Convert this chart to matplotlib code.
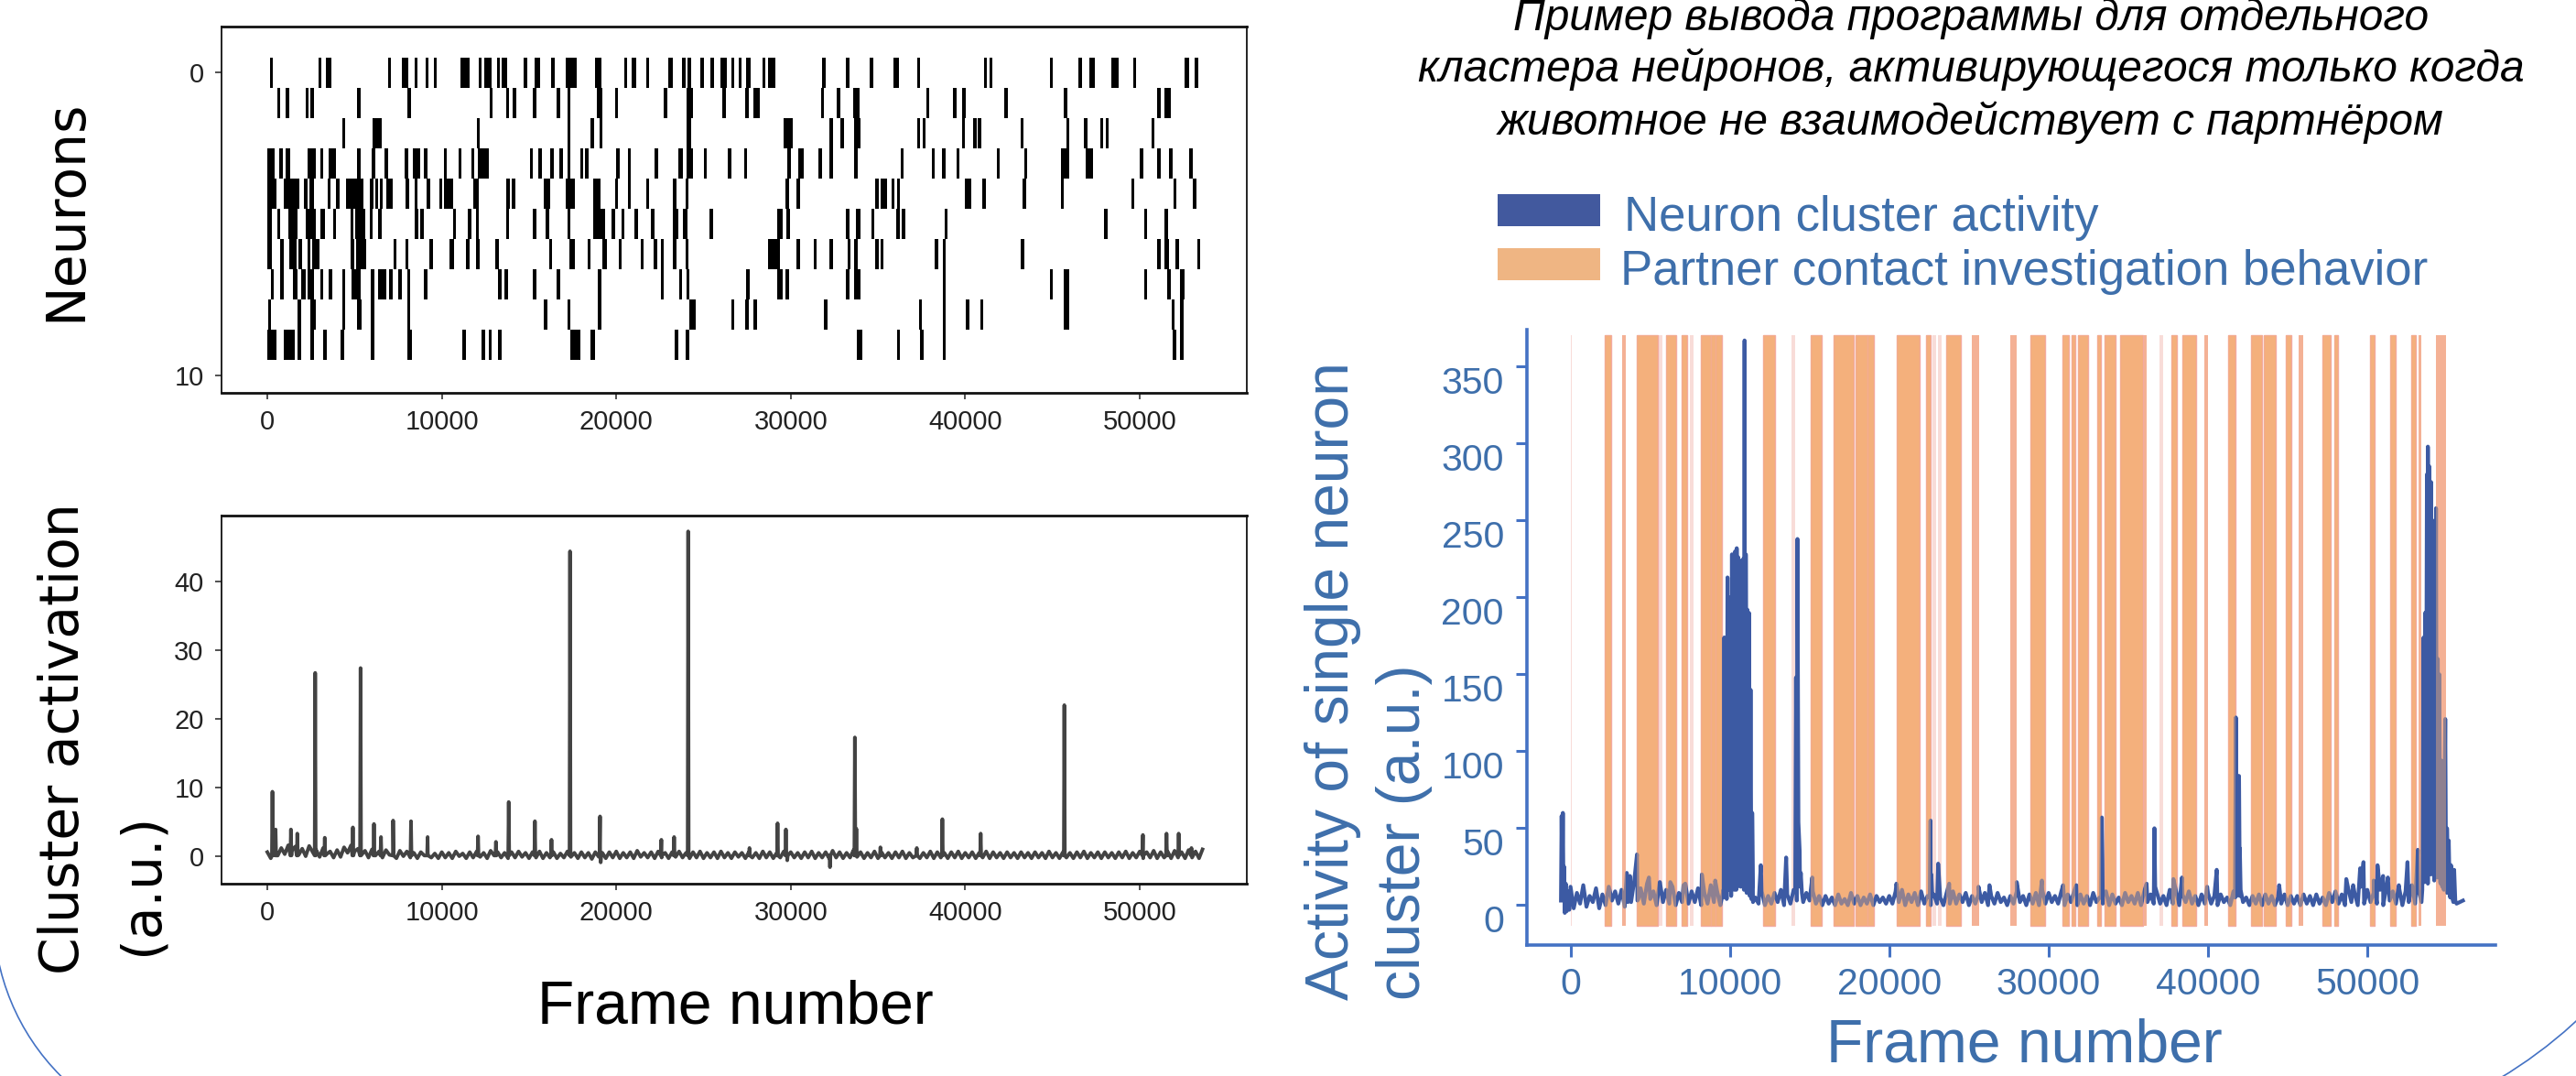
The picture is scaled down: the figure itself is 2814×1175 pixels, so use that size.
import numpy as np
import matplotlib
matplotlib.use("Agg")
import matplotlib.pyplot as plt
from matplotlib.patches import Rectangle, Arc
from matplotlib.transforms import ScaledTranslation

W, H, DPI = 2814, 1175, 100

ARIAL = ["Liberation Sans", "DejaVu Sans"]
BLUE_TXT = "#3e6fab"
BLUE_AX = "#4472c4"
BLUE_LINE = "#3c5aa3"
ORANGE = "#f4b07c"
PINK = "#f5b3ab"
FAINT = "#f8dcd8"

plt.rcParams["font.family"] = ARIAL

# ---- raster: (start frame, duration in frames) for each neuron row ----
neuron0 = [(150, 150), (2950, 150), (3350, 300), (6900, 180), (7690, 410), (8430, 180), (9070, 180),
           (9530, 170), (11080, 510), (12110, 180), (12420, 460), (13155, 180), (13430, 300),
           (14680, 220), (15325, 310), (16280, 180), (17110, 640), (18765, 400), (20455, 180),
           (20880, 275), (21705, 185), (22955, 280), (23785, 180), (24060, 220), (24835, 180),
           (25400, 200), (25970, 370), (26575, 185), (27000, 185), (27440, 275), (28360, 200),
           (28690, 405), (31815, 185), (33160, 185), (34540, 185), (35865, 310), (37240, 185),
           (41105, 150), (41380, 185), (44835, 185), (46490, 185), (47120, 330), (48370, 405),
           (49620, 185), (52545, 275), (53150, 185)]
neuron1 = [(560, 185), (1075, 185), (2215, 150), (2490, 200), (5120, 220), (8045, 185), (12730, 185),
           (13670, 185), (14075, 185), (15235, 185), (16595, 185), (17200, 185), (18910, 315),
           (19925, 185), (22720, 185), (24005, 370), (26080, 185), (27405, 185), (27865, 370),
           (31725, 185), (32645, 185), (33565, 370), (37755, 185), (39320, 185), (39815, 220),
           (42245, 185), (45665, 185), (51000, 185), (51400, 405)]
neuron2 = [(4290, 165), (6040, 185), (6260, 275), (11995, 185), (17200, 185), (18545, 185), (19040, 185),
           (24005, 275), (29610, 515), (32220, 185), (32830, 220), (33620, 370), (37240, 150),
           (37555, 185), (39815, 185), (40460, 185), (40735, 200), (43165, 185), (45795, 185),
           (46805, 185), (47725, 185), (48035, 185), (50665, 185)]
neuron3 = [(0, 410), (705, 185), (1075, 255), (2305, 495), (3040, 185), (3535, 425), (5120, 220),
           (5985, 185), (6720, 185), (7875, 185), (8320, 425), (8980, 185), (10120, 185), (10950, 185),
           (11685, 185), (12050, 645), (15050, 185), (15545, 185), (16225, 185), (16740, 185),
           (17200, 185), (17935, 185), (18210, 185), (20015, 185), (20660, 185), (22205, 185),
           (23545, 275), (24005, 370), (25015, 185), (26390, 185), (27310, 185), (29795, 220),
           (30440, 310), (31595, 185), (32220, 185), (33655, 185), (36285, 185), (38070, 185),
           (38675, 185), (39505, 185), (41805, 185), (43365, 185), (45465, 480), (46895, 425),
           (50025, 185), (51000, 185), (51680, 185), (52840, 185)]
neuron4 = [(0, 520), (925, 920), (2120, 185), (2395, 275), (3445, 185), (3960, 185), (4510, 975),
           (5890, 185), (6165, 185), (6445, 185), (6810, 370), (7915, 220), (8430, 185), (9110, 240),
           (9845, 185), (10120, 515), (11815, 330), (13705, 185), (14020, 185), (15860, 370),
           (17110, 515), (18670, 405), (19925, 185), (20660, 185), (21705, 185), (23235, 220),
           (23970, 185), (29705, 185), (30345, 185), (34850, 185), (35130, 405), (35770, 185),
           (36085, 185), (39965, 405), (40975, 185), (43310, 185), (45465, 185), (49525, 185),
           (51920, 185), (53060, 185)]
neuron5 = [(0, 245), (560, 185), (1200, 555), (2215, 550), (3040, 275), (3775, 185), (4750, 185),
           (5025, 590), (5855, 185), (6370, 185), (8465, 185), (8780, 185), (10635, 185), (11500, 185),
           (11960, 185), (13670, 185), (15235, 185), (15970, 185), (17200, 185), (18670, 680),
           (19740, 185), (20290, 185), (21065, 185), (21980, 220), (23235, 310), (23820, 275),
           (25345, 185), (29205, 315), (29760, 185), (33160, 185), (33750, 240), (34610, 185),
           (36045, 185), (36380, 185), (38805, 185), (47965, 185), (50245, 185), (51400, 220)]
neuron6 = [(0, 280), (740, 185), (1255, 440), (1810, 185), (2305, 185), (2545, 440), (4750, 220),
           (5065, 605), (7215, 185), (7915, 185), (9310, 185), (10450, 255), (11410, 185), (11960, 220),
           (13065, 185), (16150, 185), (17295, 330), (18360, 185), (19225, 240), (20145, 185),
           (21395, 185), (22165, 185), (22535, 185), (23235, 220), (23970, 185), (28690, 700),
           (30345, 185), (31320, 185), (32220, 185), (33250, 185), (33655, 185), (34850, 185),
           (35130, 185), (38255, 185), (38715, 185), (43180, 185), (51000, 185), (51400, 275),
           (52045, 185), (53280, 185)]
neuron7 = [(190, 185), (740, 185), (1480, 275), (1935, 275), (2305, 370), (3040, 185), (3535, 185),
           (4290, 185), (4825, 515), (5930, 185), (6350, 460), (6995, 185), (7510, 185), (8005, 185),
           (8980, 185), (13245, 185), (13580, 220), (15235, 185), (16595, 185), (18950, 220),
           (22535, 185), (23600, 185), (24005, 185), (27440, 185), (29245, 275), (29705, 220),
           (33160, 185), (33655, 330), (38715, 185), (44835, 185), (45665, 310), (50245, 185),
           (51585, 185), (52325, 220)]
neuron8 = [(45, 185), (1755, 185), (2490, 310), (4290, 185), (5155, 275), (5930, 185), (8005, 185),
           (15820, 220), (17200, 185), (18950, 220), (24190, 370), (26575, 185), (27405, 185),
           (27865, 185), (31910, 185), (37335, 185), (38715, 185), (40055, 185), (40865, 185),
           (45665, 310), (51825, 185), (52325, 185)]
neuron9 = [(0, 520), (925, 645), (1755, 185), (2490, 185), (3225, 185), (4200, 185), (5930, 185),
           (8005, 275), (11150, 220), (12290, 185), (12695, 185), (13210, 220), (17385, 550),
           (18545, 220), (23360, 185), (23970, 220), (33785, 330), (36085, 185), (37425, 185),
           (38715, 185), (51865, 220), (52325, 185)]
raster = [neuron0, neuron1, neuron2, neuron3, neuron4, neuron5, neuron6, neuron7, neuron8, neuron9]

# ---- cluster activation (bottom left): baseline every 200 frames + spikes ----
act_step = 200
act_base = [0.6, -0.3, 0.9, 0.1, 1.2, 0.3, 1.6, 0.8, 1.4, 0.2,
            1.1, 0.0, 1.5, 0.6, 0.9, -0.1, 1.2, 0.3, 0.7, -0.2,
            0.9, -0.1, 1.3, 0.5, 1.6, 0.7, 1.1, 0.2, 0.8, -0.2,
            1.0, 0.1, 0.7, -0.2, 0.9, 0.2, 0.6, -0.3, 0.8, 0.0,
            0.7, -0.2, 0.5, -0.3, 0.6, 0.1, 0.5, -0.2, 0.4, -0.3,
            0.6, -0.2, 0.5, -0.3, 0.7, 0.0, 0.4, -0.3, 0.6, -0.2,
            0.7, -0.1, 0.5, -0.3, 0.8, 0.1, 0.6, -0.2, 0.5, -0.3,
            0.6, -0.2, 0.7, -0.1, 0.5, -0.3, 0.6, -0.2, 0.7, -0.3,
            0.5, -0.2, 0.6, -0.3, 0.4, -0.2, 0.7, -0.1, 0.5, -0.3,
            0.6, -0.2, 0.5, -0.4, 0.6, -0.1, 0.5, -0.3, 0.6, -0.2,
            0.7, -0.3, 0.5, -0.2, 0.6, -0.3, 0.8, -0.1, 0.5, -0.2,
            0.6, -0.3, 0.7, -0.2, 0.5, -0.3, 0.6, -0.1, 0.7, -0.2,
            0.5, -0.3, 0.6, -0.2, 0.7, -0.3, 0.5, -0.2, 0.6, -0.3,
            0.7, -0.2, 0.5, -0.3, 0.6, -0.1, 0.5, -0.3, 0.6, -0.2,
            0.5, -0.3, 0.7, -0.2, 0.6, -0.3, 0.5, -0.2, 0.7, -0.3,
            0.6, -0.2, 0.5, -0.3, 0.6, -0.2, 0.7, -0.3, 0.5, -0.2,
            0.6, -0.3, 0.8, -0.2, 0.6, -0.3, 0.5, -0.2, 0.9, -0.1,
            0.6, -0.3, 0.5, -0.2, 0.7, -0.3, 0.6, -0.2, 0.5, -0.3,
            0.6, -0.2, 0.7, -0.3, 0.5, -0.2, 0.6, -0.3, 0.5, -0.2,
            0.7, -0.3, 0.6, -0.2, 0.5, -0.3, 0.6, -0.2, 0.7, -0.3,
            0.5, -0.2, 0.6, -0.3, 0.5, -0.2, 0.7, -0.3, 0.6, -0.2,
            0.5, -0.3, 0.6, -0.2, 0.5, -0.3, 0.6, -0.2, 0.5, -0.3,
            0.6, -0.2, 0.5, -0.3, 0.7, -0.2, 0.5, -0.3, 0.6, -0.2,
            0.5, -0.3, 0.6, -0.2, 0.7, -0.3, 0.5, -0.2, 0.6, -0.3,
            0.6, -0.2, 0.5, -0.3, 0.6, -0.2, 0.7, -0.3, 0.5, -0.2,
            0.7, -0.3, 0.6, -0.2, 0.8, -0.3, 0.6, -0.2, 0.7, -0.3,
            0.8, -0.2, 0.6, -0.3, 0.9, -0.2, 0.7, -0.3, 1.0]
act_spike_frames = [293, 476, 1354, 1720, 2745, 3294, 4905, 5344, 6113, 6515, 7211, 8236, 9188,
                    12079, 13104, 13836, 15337, 16288, 17350, 19070, 19107, 22584, 23316, 24121,
                    27635, 29246, 29722, 29800, 32248, 33675, 33760, 35139, 37225, 38690, 40886,
                    45680, 50183, 51537, 52233, 52965]
act_spike_values = [9.4, 3.9, 3.9, 3.3, 26.7, 2.7, 4.2, 27.4, 4.7, 2.8, 5.2, 5.1, 2.8,
                    2.9, 2.1, 7.9, 5.1, 2.4, 44.4, 5.8, -0.9, 2.4, 2.8, 47.3,
                    1.2, 4.8, 3.9, -0.6, -1.6, 17.3, 4.0, 1.3, 1.2, 5.4, 3.3,
                    22.0, 3.1, 3.3, 3.3, 1.2]

# ---- single neuron cluster activity (right): baseline every 200 frames + events ----
rt_step = 200
rt_base = [12, -2, 8, 1, 13, -1, 6, 2, 11, -2,
           7, 0, 12, 3, 9, 1, 10, -1, 8, 2,
           16, 3, 11, 1, 14, 4, 9, 0, 15, 2,
           10, 1, 12, 0, 8, 2, 14, 1, 9, 2,
           11, 0, 8, 1, 13, 2, 9, 0, 10, 6,
           12, 20, 10, 18, 14, 16, 8, 12, 5, 1,
           9, 0, 6, 1, 8, 2, 10, 0, 7, 1,
           10, 3, 12, 2, 8, 3, 9, 1, 6, 0,
           6, 1, 5, 0, 7, 1, 4, 0, 8, 1,
           6, 0, 5, 1, 7, 0, 6, 2, 5, 1,
           6, 1, 9, 2, 10, 0, 7, 2, 8, 0,
           9, 1, 6, 0, 7, 1, 5, 0, 8, 1,
           9, 1, 7, 2, 8, 0, 6, 1, 7, 2,
           8, 0, 6, 1, 8, 2, 5, 0, 6, 1,
           9, 2, 6, 0, 7, 1, 8, 0, 10, 1,
           8, 2, 6, 1, 9, 0, 7, 2, 9, 0,
           7, 1, 6, 0, 8, 2, 5, 1, 9, 0,
           7, 1, 5, 0, 8, 2, 6, 1, 8, 0,
           9, 2, 7, 1, 8, 1, 6, 0, 10, 1,
           9, 0, 7, 2, 9, 1, 6, 0, 7, 1,
           8, 1, 6, 0, 7, 2, 5, 0, 9, 6,
           6, 2, 5, 0, 6, 1, 7, 0, 7, 1,
           6, 0, 5, 1, 7, 0, 6, 1, 6, 0,
           7, 1, 6, 0, 7, 1, 5, 0, 8, 2,
           9, 1, 7, 0, 11, 2, 8, 0, 12, 1,
           10, 2, 8, 1, 10, 0, 12, 3, 9, 1,
           11, 0, 9, 2, 13, 1, 10, 2, 15, 14,
           20, 16, 18, 14, 12, 8, 5, 2, 1, 2,
           3]
rt_events = [(-600, 3), (-560, 58), (-520, 18), (-480, 60), (-440, 6), (-400, 25), (-360, -5),
             (-300, 14), (-250, -4), (-150, 9), (-80, -3),
             (3530, 21), (3600, 2), (3730, 19), (4170, 33), (4250, 4), (4920, 18), (5610, 15),
             (6260, 15), (7090, 13), (8240, 20), (9080, 16),
             (9600, 5), (9650, 174), (9700, 8), (9750, 160), (9800, 4), (9850, 213), (9900, 10),
             (9950, 200), (10000, 12), (10030, 152), (10080, 6), (10130, 228), (10180, 14),
             (10230, 215), (10280, 10), (10330, 230), (10380, 15), (10430, 232), (10480, 12),
             (10530, 226), (10580, 16), (10630, 224), (10680, 12), (10730, 218), (10780, 15),
             (10830, 225), (10880, 10), (10920, 367), (10960, 14), (11000, 228), (11050, 8),
             (11100, 192), (11150, 10), (11200, 190), (11250, 6), (11300, 140), (11350, 4),
             (11400, 60), (11450, 2),
             (11940, 26), (13530, 31), (14100, 10), (14150, 148), (14240, 238), (14300, 54),
             (14380, 35), (14450, 21), (14520, 8), (15170, 18), (20450, 14), (22550, 5),
             (22590, 55), (22640, 20), (22700, 6), (23070, 27), (23760, 14), (25600, 12),
             (26290, 13), (28000, 15), (29580, 16), (30910, 13), (31740, 13), (33300, 5),
             (33340, 57), (33380, 30), (33420, 8), (36150, 14), (36600, 3), (36640, 50),
             (36690, 12), (37830, 17), (38370, 18), (39950, 12), (40550, 23), (41700, 5),
             (41750, 122), (41800, 40), (41850, 84), (41900, 30), (41950, 84), (42000, 37),
             (42050, 10), (44470, 13), (48680, 17), (49110, 13), (49550, 24), (49760, 28),
             (50400, 16), (50640, 26), (50990, 19), (51290, 18), (51980, 13), (52520, 28),
             (53170, 36),
             (53450, 10), (53530, 174), (53580, 30), (53630, 190), (53680, 40), (53740, 280),
             (53800, 298), (53850, 60), (53900, 285), (53950, 50), (54000, 275), (54050, 40),
             (54100, 250), (54150, 35), (54200, 245), (54250, 30), (54310, 258), (54360, 25),
             (54420, 160), (54470, 20), (54520, 150), (54570, 15), (54650, 94), (54700, 12),
             (54760, 60), (54800, 10), (54890, 121), (54940, 20), (55000, 50), (55050, 10),
             (55110, 42), (55170, 8), (55250, 26), (55320, 5), (55450, 23), (55520, 3)]

# partner contact investigation bouts (start, end frame)
contact_bouts = [(2165, 2545), (4176, 5460), (5996, 6648), (6954, 7337), (8180, 8812), (8812, 9100),
                 (9100, 9520), (12069, 12835), (15077, 15767), (16534, 17759), (17874, 18638),
                 (18638, 19063), (20500, 21936), (22282, 22605), (23600, 24521), (28868, 29753),
                 (30880, 31280), (31418, 31667), (31839, 32471), (33046, 33295), (33506, 34195),
                 (34502, 35920), (37701, 38027), (38410, 39272), (41282, 41705), (42720, 43390),
                 (43486, 44253), (44885, 45211), (47184, 47701), (47931, 48180), (50191, 50478),
                 (51437, 51782), (52740, 53065)]
contact_short = [(3257, 3448), (25191, 25670), (27586, 27969), (35977, 36168), (39753, 39983),
                 (45689, 45977), (53218, 53391), (54310, 54925)]
contact_faint = [(0, 100), (5460, 5747), (7471, 7720), (13889, 14080), (22701, 22931),
                 (23084, 23276), (36937, 37163)]

title_lines = ["Пример вывода программы для отдельного",
               "кластера нейронов, активирующегося только когда",
               "животное не взаимодействует с партнёром"]
legend_labels = ["Neuron cluster activity", "Partner contact investigation behavior"]


def box(l, t, r, b):
    return [l / W, 1 - b / H, (r - l) / W, (b - t) / H]


fig = plt.figure(figsize=(W / DPI, H / DPI), dpi=DPI)

# full-figure pixel axes for free text and decorations
deco = fig.add_axes([0, 0, 1, 1])
deco.set_xlim(0, W)
deco.set_ylim(H, 0)
deco.axis("off")
deco.add_patch(Arc((243, 998), 500, 500, theta1=90, theta2=180, color=BLUE_AX, lw=1.2))
deco.add_patch(Arc((2469, 741), 1018, 1018, theta1=0, theta2=90, color=BLUE_AX, lw=1.2))

# ---------------- raster ----------------
ax1 = fig.add_axes(box(242, 29, 1362, 429))
for row, events in enumerate(raster):
    ax1.broken_barh(events, (row - 0.5, 1), facecolor="black", edgecolor="none")
ax1.set_ylim(10.58, -1.52)
ax1.set_xlim(-2623, 56138)
ax1.set_yticks([0, 10])
ax1.set_xticks(range(0, 50001, 10000))

# ---------------- cluster activation ----------------
ax2 = fig.add_axes(box(242, 563, 1362, 965))
sx, sy = [], []
for f, v in zip(act_spike_frames, act_spike_values):
    sx += [f - 30, f, f + 30]
    sy += [0.1, v, 0.1]
ax_f = np.concatenate([np.arange(len(act_base)) * act_step, sx])
ax_v = np.concatenate([act_base, sy])
order = np.argsort(ax_f, kind="stable")
ax2.plot(ax_f[order], ax_v[order], color="#434343", lw=2.8)
ax2.set_xlim(-2623, 56138)
ax2.set_ylim(-4.0, 49.6)
ax2.set_yticks([0, 10, 20, 30, 40])
ax2.set_xticks(range(0, 50001, 10000))

for ax in (ax1, ax2):
    for s in ax.spines.values():
        s.set_linewidth(1.3)
        s.set_color("#111111")
    ax.spines["top"].set_linewidth(2.0)
    ax.spines["bottom"].set_linewidth(2.0)
    ax.tick_params(labelsize=21, length=5, width=1.1, pad=8, colors="#222222")
    ax.tick_params(axis="y", pad=9)

# ---------------- right panel ----------------
ax3 = fig.add_axes(box(1668, 360, 2726, 1032))
rf = np.concatenate([np.arange(len(rt_base)) * rt_step, [e[0] for e in rt_events]])
rv = np.concatenate([rt_base, [e[1] for e in rt_events]])
order = np.argsort(rf, kind="stable")
ylo, yhi = -25.9, 374.0
span_lo = (-13.3 - ylo) / (yhi - ylo)
span_hi = (370.6 - ylo) / (yhi - ylo)
for a, b in contact_faint:
    ax3.axvspan(a, b, span_lo, span_hi, facecolor=FAINT, edgecolor="none", zorder=1)
for a, b in contact_short:
    ax3.axvspan(a, b, span_lo, span_hi, facecolor=PINK, edgecolor="none", zorder=1)
for a, b in contact_bouts:
    ax3.axvspan(a, b, span_lo, span_hi, facecolor=ORANGE, edgecolor="#f3aaa0", lw=1.0, zorder=1)
ax3.plot(rf[order], rv[order], color=BLUE_LINE, lw=3.0, zorder=2)
for a, b in contact_bouts + contact_short:
    ax3.axvspan(a, b, span_lo, span_hi, facecolor=ORANGE, edgecolor="none", alpha=0.45, zorder=3)
ax3.set_xlim(-2736, 58040)
ax3.set_ylim(ylo, yhi)
ax3.set_xticks(range(0, 50001, 10000))
ax3.set_yticks(range(0, 351, 50))
ax3.spines["top"].set_visible(False)
ax3.spines["right"].set_visible(False)
for s in ("left", "bottom"):
    ax3.spines[s].set_linewidth(2.6)
    ax3.spines[s].set_color(BLUE_AX)
ax3.tick_params(length=9, width=2.2, color=BLUE_AX, labelcolor=BLUE_TXT, labelsize=29.5)
ax3.tick_params(axis="x", pad=8)
ax3.tick_params(axis="y", pad=9)
shift = ScaledTranslation(0, -0.15, fig.dpi_scale_trans)
for lbl in ax3.get_yticklabels():
    lbl.set_transform(lbl.get_transform() + shift)

# ---------------- labels ----------------
deco.text(72, 230, "Neurons", rotation=90, ha="center", va="center",
          fontsize=42, family="DejaVu Sans", color="black")
deco.text(70, 807, "Cluster activation", rotation=90, ha="center", va="center",
          fontsize=42, family="DejaVu Sans", color="black")
deco.text(155, 965, "(a.u.)", rotation=90, ha="center", va="center",
          fontsize=42, family="DejaVu Sans", color="black")
deco.text(803, 1117, "Frame number", ha="center", va="baseline", fontsize=47.5, color="black")

deco.text(1456, 1092, "Activity of single neuron", rotation=90, ha="center", va="bottom",
          fontsize=47.5, color=BLUE_TXT)
deco.text(1534, 1092, "cluster (a.u.)", rotation=90, ha="center", va="bottom",
          fontsize=47.5, color=BLUE_TXT)
deco.text(2211, 1159, "Frame number", ha="center", va="baseline", fontsize=47.5, color=BLUE_TXT)

for y, line in zip([33, 89, 147], title_lines):
    deco.text(2153, y, line, ha="center", va="baseline", fontsize=34.5, style="italic",
              color="black")

deco.add_patch(Rectangle((1636, 212), 112, 35, facecolor="#42599e", edgecolor="none"))
deco.add_patch(Rectangle((1636, 271), 112, 35, facecolor="#efb583", edgecolor="none"))
deco.text(1774, 238, legend_labels[0], ha="left", va="center", fontsize=38, color=BLUE_TXT)
deco.text(1770, 297, legend_labels[1], ha="left", va="center", fontsize=38, color=BLUE_TXT)

fig.savefig("out.png", dpi=DPI)
